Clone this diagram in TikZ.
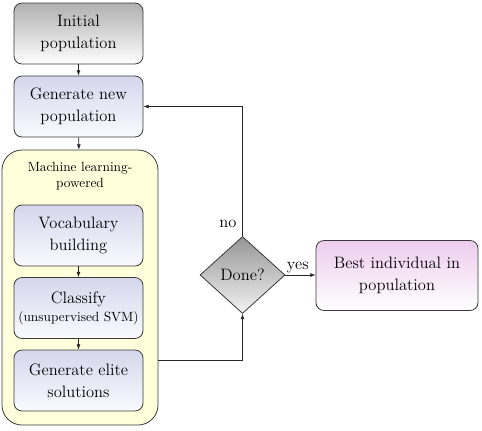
\documentclass[tikz,border=0pt]{standalone}
\usetikzlibrary{shapes.geometric,arrows.meta}
\definecolor{bordercol}{HTML}{3A3A3A}
\definecolor{grayTop}{HTML}{B0B0B0}
\definecolor{lavTop}{HTML}{D6D6EC}
\definecolor{lavBot}{HTML}{FAFAFF}
\definecolor{pinkTop}{HTML}{EDCDED}
\definecolor{yellowbg}{HTML}{FFFFDC}
\begin{document}
\begin{tikzpicture}[x=0.75pt,y=-0.75pt,
  every node/.style={font=\fontsize{12.4}{16.5}\selectfont},
  box/.style={draw=bordercol, line width=0.6pt, rounded corners=6pt, rectangle,
    minimum width=96.75pt, minimum height=45.75pt, inner sep=1pt, align=center},
  graybox/.style={box, top color=grayTop, bottom color=white},
  lavbox/.style={box, top color=lavTop, bottom color=lavBot},
  pinkbox/.style={box, top color=pinkTop, bottom color=white, minimum width=121.5pt, minimum height=52.5pt},
  decision/.style={diamond, draw=bordercol, line width=0.6pt, top color=grayTop!85!black, bottom color=white!95!black,
    minimum width=63.75pt, minimum height=57.75pt, inner sep=0pt, align=center},
  container/.style={draw=bordercol, line width=0.6pt, fill=yellowbg, rounded corners=15pt,
    minimum width=117pt, minimum height=206.25pt, inner sep=0pt},
  arr/.style={-{Latex[length=4pt,width=3pt]}, line width=0.5pt, draw=black!85},
  lbl/.style={font=\fontsize{12.4}{14.5}\selectfont, inner sep=1pt}
]
\useasboundingbox (0,0) rectangle (482,430);

\node[container] (ml) at (80,287.5) {};
\node[font=\fontsize{10}{12}\selectfont, align=center] (mllabel) at (80,176) {Machine learning-\\powered};

\node[graybox] (init) at (78.5,33.5) {Initial\\population};
\node[lavbox] (gen) at (78.5,106.5) {Generate new\\population};
\node[lavbox] (vocab) at (78.5,235.5) {Vocabulary\\building};
\node[lavbox] (classify) at (78.5,308) {Classify\\[-3pt]{\fontsize{10}{12}\selectfont(unsupervised SVM)}};
\node[lavbox] (elite) at (78.5,380.5) {Generate elite\\solutions};

\node[decision] (done) at (242.5,275) {Done?};
\node[pinkbox] (best) at (397,275.5) {Best individual in\\population};

\coordinate (exitpt) at (158,360);

\draw[arr] (init) -- (gen);
\draw[arr] (gen) -- (ml);
\draw[arr] (vocab) -- (classify);
\draw[arr] (classify) -- (elite);
\draw[arr] (exitpt) -| (done.south);
\draw[arr] (done.north) |- (gen.east);
\node[lbl] (no) at (228,224) {no};
\draw[arr] (done.east) -- node[lbl, above, xshift=-2pt] (yes) {yes} (done.east -| best.west);
\end{tikzpicture}
\end{document}
